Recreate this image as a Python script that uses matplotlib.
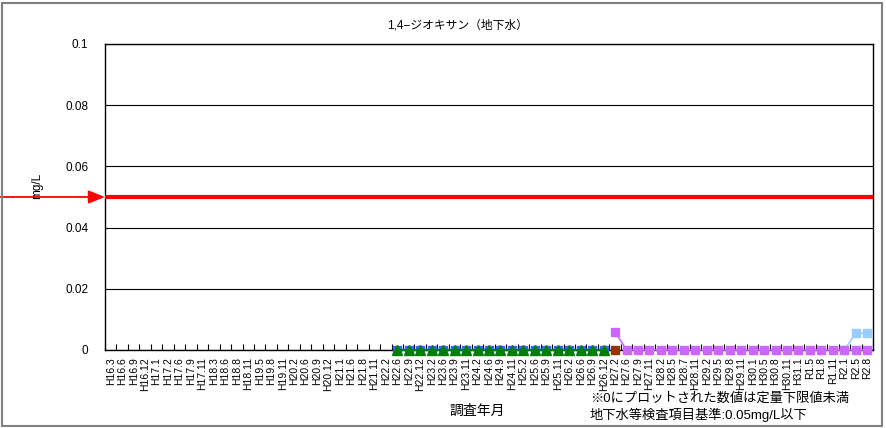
import numpy as np
import matplotlib
matplotlib.use("Agg")
import matplotlib.pyplot as plt
from matplotlib.patches import Rectangle

plt.rcParams['font.family'] = ['Liberation Sans', 'Noto Sans CJK JP', 'DejaVu Sans']

labels = ["H16.3", "H16.6", "H16.9", "H16.12", "H17.1", "H17.2", "H17.6", "H17.9", "H17.11",
          "H18.3", "H18.6", "H18.8", "H18.11", "H19.5", "H19.8", "H19.11",
          "H20.2", "H20.6", "H20.9", "H20.12", "H21.1", "H21.6", "H21.8", "H21.11",
          "H22.2", "H22.6", "H22.9", "H22.12", "H23.2", "H23.6", "H23.9", "H23.11",
          "H24.2", "H24.6", "H24.9", "H24.11", "H25.2", "H25.6", "H25.9", "H25.11",
          "H26.2", "H26.6", "H26.9", "H26.12", "H27.2", "H27.6", "H27.9", "H27.11",
          "H28.2", "H28.5", "H28.7", "H28.11", "H29.2", "H29.5", "H29.8", "H29.11",
          "H30.1", "H30.5", "H30.8", "H30.11", "H31.1", "R1.5", "R1.8", "R1.11",
          "R2.1", "R2.5", "R2.8"]

# series: (first label, values)
blue_start = "H22.6"
blue_vals = [0, 0, 0, 0, 0, 0, 0, 0, 0, 0, 0, 0, 0, 0, 0, 0, 0, 0, 0]
green_start = "H22.6"
green_vals = [0, 0, 0, 0, 0, 0, 0, 0, 0, 0, 0, 0, 0, 0, 0, 0, 0, 0, 0]
brown_start = "H27.2"
brown_vals = [0]
purple_start = "H27.2"
purple_vals = [0.006, 0, 0, 0, 0, 0, 0, 0, 0, 0, 0, 0, 0, 0, 0, 0, 0, 0, 0, 0, 0, 0, 0]
lblue_start = "R2.1"
lblue_vals = [0, 0.0055, 0.0055]

standard = 0.05

fig = plt.figure(figsize=(8.87, 4.28), dpi=100)
ax = fig.add_axes([105 / 887, 1 - 350 / 428, 768 / 887, 306 / 428])

n = len(labels)
x = np.arange(n)

def xs(start, vals):
    i = labels.index(start)
    return x[i:i + len(vals)]

ax.plot(xs(blue_start, blue_vals), blue_vals, color='#3366ff', lw=1.5,
        marker='s', ms=5.5, zorder=3, clip_on=False)
ax.plot(xs(green_start, green_vals), green_vals, color='#008000', lw=1.5,
        marker='^', ms=7, zorder=4, clip_on=False)
ax.plot(xs(brown_start, brown_vals), brown_vals, color='#993300', lw=1.5,
        marker='s', ms=6, zorder=4, clip_on=False)
ax.plot(xs(purple_start, purple_vals), purple_vals, color='#cc66ff', lw=1.2,
        marker='s', ms=6, zorder=5, clip_on=False)
ax.plot(xs(lblue_start, lblue_vals), lblue_vals, color='#99ccff', lw=1.2,
        marker='s', ms=6, zorder=4, clip_on=False)

ax.plot([-0.5, n - 0.5], [standard, standard], color='#ff0000', lw=3, zorder=6,
        solid_capstyle='butt')

# arrow pointing at the standard line from outside
ax.annotate('', xy=(-0.5, standard), xycoords='data',
            xytext=(0, standard), textcoords=('figure fraction', 'data'),
            arrowprops=dict(arrowstyle='-|>,head_length=1.0,head_width=0.4',
                            color='#ff0000', lw=1.3, shrinkA=0, shrinkB=0),
            annotation_clip=False)

ax.set_xlim(-0.5, n - 0.5)
ax.set_ylim(0, 0.1)
ax.set_yticks([0, 0.02, 0.04, 0.06, 0.08, 0.1])
ax.set_yticklabels(['0', '0.02', '0.04', '0.06', '0.08', '0.1'], fontsize=8.5)
ax.yaxis.grid(True, color='black', lw=0.8)
ax.set_axisbelow(True)
ax.tick_params(axis='y', length=0, pad=12)

ax.set_xticks(x)
ax.set_xticklabels(labels, rotation=90, fontsize=7.5)
ax.set_xticks(np.arange(-0.5, n, 1), minor=True)
ax.tick_params(axis='x', which='major', length=0, pad=5)
ax.tick_params(axis='x', which='minor', length=4, direction='in', width=0.8)
for s in ax.spines.values():
    s.set_color('black')
    s.set_linewidth(1)

fig.text(457 / 887, 1 - 26 / 428, '1,4−ジオキサン（地下水）', ha='center', va='center',
         fontsize=8.5)
fig.text(37 / 887, 1 - 186 / 428, 'mg/L', rotation=90, ha='center', va='center',
         fontsize=8.5)
fig.text(477 / 887, 1 - 411 / 428, '調査年月', ha='center', va='center', fontsize=10)
fig.text(590 / 887, 1 - 399 / 428, '※0にプロットされた数値は定量下限値未満',
         ha='left', va='center', fontsize=9.5)
fig.text(590 / 887, 1 - 415 / 428, '地下水等検査項目基準:0.05mg/L以下',
         ha='left', va='center', fontsize=9.5)

fig.patches.append(Rectangle((2 / 887, 2 / 428), 880 / 887, 423 / 428,
                             transform=fig.transFigure, fill=False,
                             edgecolor='#808080', lw=1.5))

fig.savefig('out.png', dpi=100)
